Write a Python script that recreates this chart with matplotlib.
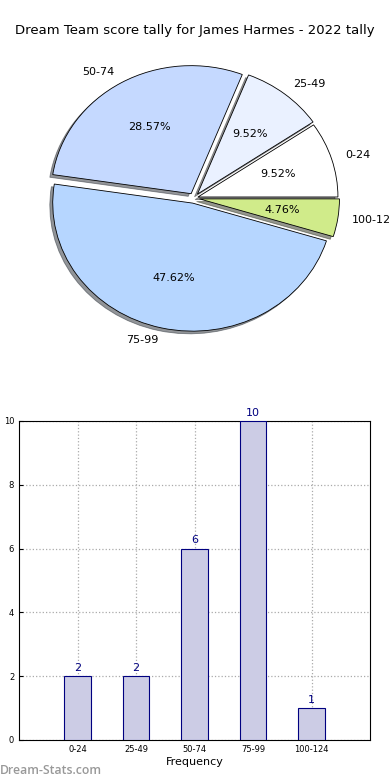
import matplotlib
matplotlib.use('Agg')
import matplotlib.pyplot as plt
import numpy as np

# score bands and how often each came up
bands = ['0-24', '25-49', '50-74', '75-99', '100-124']
counts = [2, 2, 6, 10, 1]
pie_colors = ['#ffffff', '#eaf1ff', '#c5d9ff', '#b6d6ff', '#d0eb8a']
explode = [0.03, 0.04, 0.04, 0.04, 0.04]

title = 'Dream Team score tally for James Harmes - 2022 tally'

fig = plt.figure(figsize=(3.9, 7.8), dpi=100)
fig.text(0.5, 0.961, title, ha='center', va='center', fontsize=9.5)

# pie on top (old style, not forced round)
ax1 = fig.add_axes([0.0128, 0.508, 0.969, 0.476])
wedges, texts, autotexts = ax1.pie(counts, labels=bands, colors=pie_colors, explode=explode,
	autopct='%1.2f%%', startangle=0,
	shadow={'ox': -0.015, 'oy': -0.015, 'shade': 0.8},
	wedgeprops={'edgecolor': 'black', 'linewidth': 0.6},
	textprops={'fontsize': 8})
ax1.set_aspect('auto')
ax1.set_xlim(-1.35, 1.35)
ax1.set_ylim(-1.45, 1.45)
ax1.axis('off')

# bar chart below
ax2 = fig.add_axes([0.049, 0.0513, 0.9, 0.409])
x = np.arange(len(bands))
ax2.bar(x, counts, width=0.45, color='#ccccE5', edgecolor='#000080', linewidth=0.8, zorder=3)
for i, c in enumerate(counts):
	ax2.text(i, c + 0.1, str(c), ha='center', va='bottom', color='#000080', fontsize=8)
ax2.set_xlim(-1, 5)
ax2.set_ylim(0, 10)
ax2.set_xticks(x)
ax2.set_xticklabels(bands)
ax2.set_yticks([0, 2, 4, 6, 8, 10])
ax2.tick_params(labelsize=6, direction='in', length=3)
ax2.grid(True, linestyle=':', color='#aaaaaa', linewidth=0.9)
ax2.set_axisbelow(True)
ax2.set_xlabel('Frequency', fontsize=8, labelpad=2)
ax2.set_ylabel('Occurrences', fontsize=8, labelpad=4)

fig.text(0.0, 0.004, 'Dream-Stats.com', color='#999999', fontsize=8.8, family='Open Sans',
	fontweight='semibold', ha='left', va='bottom')

fig.savefig('out.png', dpi=100)
